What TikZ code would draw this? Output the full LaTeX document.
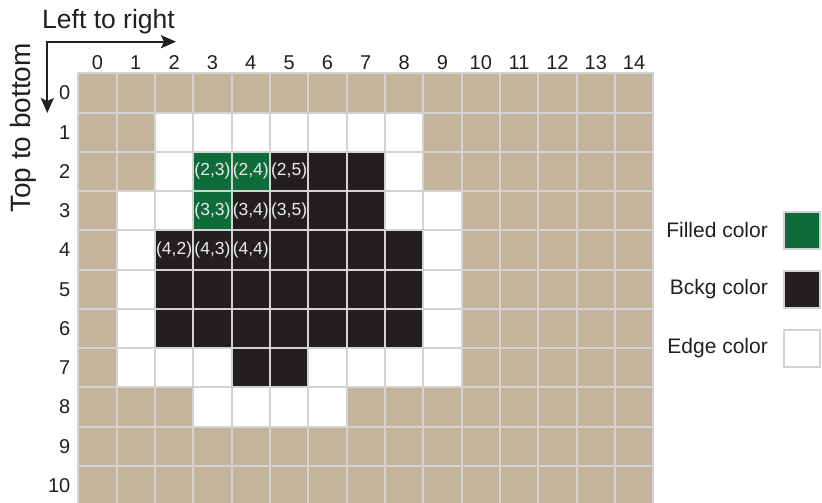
\documentclass[tikz,border=0pt]{standalone}
\usepackage{fontspec}
\setmainfont{Liberation Sans}
\usetikzlibrary{positioning, arrows.meta}
\definecolor{cellt}{HTML}{C4B49C}
\definecolor{cellw}{HTML}{FFFFFF}
\definecolor{cellg}{HTML}{0E6B3A}
\definecolor{cellb}{HTML}{231F20}
\definecolor{gridgray}{HTML}{D3D3D3}

\begin{document}
\begin{tikzpicture}[x=1pt, y=-1pt,
      cell/.style={draw=gridgray, line width=2pt, inner sep=0pt, outer sep=0pt,
        minimum width=38.33pt, minimum height=39.25pt},
      idx/.style={font={\fontsize{20}{24}\selectfont}, text=cellb, inner sep=0pt},
      rclabel/.style={font={\fontsize{17.5}{21}\selectfont}, text=white!92!black, inner sep=0pt},
      title/.style={font={\fontsize{26.5}{30}\selectfont}, text=cellb, inner sep=0pt},
      legbox/.style={draw=gridgray, line width=2pt, inner sep=0pt,
        minimum width=36pt, minimum height=37pt},
      legtext/.style={font={\fontsize{21}{25}\selectfont}, text=cellb, inner sep=0pt},
      pfeil/.style={draw=cellb, line width=1.8pt,
        arrows={Stealth[length=15pt, width=13pt, inset=3pt]-Stealth[length=15pt, width=13pt, inset=3pt]}}]
    \useasboundingbox (0,0) rectangle (822,503);
    % cells, row by row
    \foreach \r/\row in {
        0/{t,t,t,t,t,t,t,t,t,t,t,t,t,t,t},
        1/{t,t,w,w,w,w,w,w,w,t,t,t,t,t,t},
        2/{t,t,w,g,g,b,b,b,w,t,t,t,t,t,t},
        3/{t,w,w,g,b,b,b,b,w,w,t,t,t,t,t},
        4/{t,w,b,b,b,b,b,b,b,w,t,t,t,t,t},
        5/{t,w,b,b,b,b,b,b,b,w,t,t,t,t,t},
        6/{t,w,b,b,b,b,b,b,b,w,t,t,t,t,t},
        7/{t,w,w,w,b,b,w,w,w,w,t,t,t,t,t},
        8/{t,t,t,w,w,w,w,t,t,t,t,t,t,t,t},
        9/{t,t,t,t,t,t,t,t,t,t,t,t,t,t,t},
        10/{t,t,t,t,t,t,t,t,t,t,t,t,t,t,t}} {
      \foreach \k [count=\c from 0] in \row {
        \node[cell, fill=cell\k] (c\r-\c) at ({78.3+38.33*(\c+0.5)}, {73.3+39.25*(\r+0.5)}) {};
      }
    }
    % indices
    \foreach \c in {0,...,14}
      \node[idx, anchor=base] (col\c) at ({78.3+38.33*(\c+0.5)}, 70) {\c};
    \foreach \r in {0,...,10}
      \node[idx, anchor=base east] (row\r) at (70.5, {73.3+39.25*(\r+0.5)+7}) {\r};
    \foreach \r/\c in {2/3, 2/4, 2/5, 3/3, 3/4, 3/5, 4/2, 4/3, 4/4}
      \node[rclabel] (p\r-\c) at (c\r-\c) {(\r,\c)};
    % directions
    \node[title, anchor=base] (lr) at (108.5,29) {Left to right};
    \node[title, font={\fontsize{28}{32}\selectfont}, rotate=90, anchor=base] (tb) at (30,128) {Top to bottom};
    \coordinate (lrend) at (176,41.7);
    \coordinate (tbend) at (47.3,113);
    \draw[pfeil] (tbend) |- (lrend);
    % legend
    \node[legbox, fill=cellg] (fillbox) at (802,230.3) {};
    \node[legbox, fill=cellb, below=20pt of fillbox] (bckgbox) {};
    \node[legbox, fill=cellw, below=20pt of bckgbox] (edgebox) {};
    \node[legtext, left=15pt of fillbox] (filltext) {Filled color};
    \node[legtext, left=15pt of bckgbox] (bckgtext) {Bckg color};
    \node[legtext, left=15pt of edgebox] (edgetext) {Edge color};
\end{tikzpicture}
\end{document}
